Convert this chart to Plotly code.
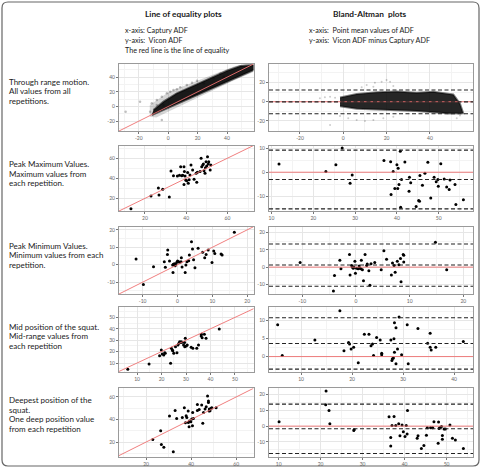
import plotly.graph_objects as go

W, H = 482, 468

# ---------------- data ----------------
# Row 1: through range motion (dense cloud, approximated by outline polygons + loose points)
loe1_core_x = [-11.1, -0.9, 12.7, 26.4, 40.0, 53.7, 58.2, 58.2, 49.1, 40.0, 28.7, 17.3, 5.9, -3.2, -10.0]
loe1_core_y = [-11.6, -2.5, 8.9, 21.6, 33.9, 45.2, 49.8, 56.6, 55.3, 48.9, 38.4, 28.0, 18.0, 6.6, -4.8]
loe1_halo_x = [-12.5, -7.7, -4.3, -0.9, 3.6, 8.2, 12.7, 16.2, 19.6, 30, 45, 58, 58, 45, 30, 15, 0, -8, -12.5]
loe1_halo_y = [2.0, 8.9, 13.4, 18.0, 22.5, 26.2, 29.3, 32.5, 35.2, 44, 55, 60, 47, 36, 22, 7, -7, -15, -14]
loe1_pts_x = [-11.1, -7.7, -4.3, -0.9, 3.6, 8.2, 12.7, 16.2, 19.6, 1.4, 5.9, -19.1, -28.9, -4.3, -7.7, -3.2, -12.3, 24.1, 30.9, 35.5, 37.7]
loe1_pts_y = [4.3, 8.9, 13.4, 18.0, 22.5, 26.2, 29.3, 32.5, 35.2, 20.2, 23.4, 6.6, -7.0, -18.4, 2.0, 2.0, -7.0, 31.6, 38.4, 45.2, 40.7]

ba1_core_x = [-1.5, 6.2, 15.4, 24.7, 33.9, 41.6, 50.8, 53.9, 55.4, 49.3, 41.6, 33.9, 24.7, 15.4, 6.2, -1.5]
ba1_core_y = [4.5, 8.0, 9.8, 10.6, 9.4, 10.4, 7.5, -2.0, -12.0, -12.3, -11.0, -9.6, -8.8, -8.2, -7.4, -4.6]
ba1_pts_x = [-10.8, -8.5, -6.1, -3.8, 10.8, 14.6, 17.7, 20.0, 21.6, 23.1, 13.9, 8.5,
             -1.5, 2.3, 6.2, 10.0, 13.9, 18.5, 23.1, -6.1, 52.4, 53.9]
ba1_pts_y = [3.5, 4.6, 5.2, 4.2, 17.4, 19.8, 20.9, 22.6, 20.9, 16.4, 15.6, 15.0,
             -14.9, -17.3, -19.1, -20.1, -19.1, -17.3, -15.6, -24.3, -17.3, -14.3]

# Row 2: peak maximum values
loe2_x = [13.2, 22.9, 26.5, 26.8, 28.6, 31.8, 32.6, 33.8, 35.7, 36.7, 37.3, 37.8, 38.3, 38.9, 39.4, 39.1, 38.9, 39.7,
          40.2, 40.7, 41.0, 41.4, 41.8, 42.3, 43.1, 43.8, 44.8, 45.1, 45.4, 46.7, 47.2, 47.5, 48.0, 48.3, 48.6, 49.1,
          49.6, 49.9, 50.3, 50.7, 50.9, 51.6, 51.9, 49.3]
loe2_y = [9.7, 22.3, 30.3, 23.3, 29.0, 21.3, 47.2, 42.6, 42.2, 42.9, 51.5, 42.6, 42.9, 51.5, 42.2, 46.6, 33.9, 38.3,
          37.6, 45.6, 34.9, 38.6, 43.2, 53.2, 48.2, 38.9, 44.9, 35.9, 45.9, 46.6, 59.8, 51.5, 53.2, 54.2, 47.5, 44.9,
          56.5, 52.2, 61.5, 54.2, 56.5, 48.2, 53.2, 50.5]
ba2_x = [11.8, 23.0, 25.4, 26.9, 28.8, 29.3, 36.9, 38.5, 38.6, 39.1, 39.5, 40.0, 40.2, 40.3, 40.5, 40.8, 40.9, 41.1,
         41.9, 42.9, 43.0, 43.3, 44.6, 45.2, 45.4, 45.5, 46.1, 46.7, 47.4, 48.1, 48.9, 49.4, 49.8, 49.9, 50.5, 51.3,
         51.9, 52.5, 52.7, 53.9, 54.1, 55.9]
ba2_y = [3.4, 0.3, 3.1, 10.1, -4.6, -1.1, 4.9, 4.3, -9.3, 0.3, -6.8, 3.1, -6.8, 1.7, -5.1, 8.7, -14.5, -3.0,
         4.2, -7.9, -2.1, -4.4, -14.2, -11.7, -12.0, -1.4, -5.4, -0.4, 4.1, -10.7, -2.1, -4.0, -3.0, -5.8, 3.5, -2.8,
         -6.1, -7.2, -3.2, -5.1, -13.4, -11.4]

# Row 3: peak minimum values
loe3_x = [-11.9, -9.8, -6.9, -3.8, -3.5, -2.9, -2.8, -2.3, -1.4, -1.3, -1.2, -0.9, -0.7, -0.5, -0.2, 0.0, 0.3, 0.6,
          1.0, 1.1, 1.3, 2.2, 2.4, 2.7, 3.2, 3.4, 4.0, 4.3, 4.6, 5.0, 5.9, 7.2, 7.8, 8.2, 8.8, 9.9, 10.4, 10.7, 12.5,
          12.8, 16.3]
loe3_y = [3.3, -11.3, -1.1, 1.7, -1.5, 5.9, 8.4, 2.1, -0.2, -4.4, 0.2, 0.6, -0.6, 0.2, 1.4, 2.1, 1.7, 1.4,
          1.7, 4.0, -1.3, -4.4, -0.2, 1.7, 2.3, 5.6, 13.2, 9.0, 2.9, -1.7, 9.4, 7.1, 4.0, 5.9, 8.4, 1.2, 7.9, 6.5, 6.1,
          5.6, 18.6]
ba3_x = [-10.4, -4.0, -4.2, -3.0, -2.8, -1.2, -1.1, -0.8, -0.7, -0.5, -0.4, -0.2, -0.1, 0.1, 0.4, 0.6, 0.7, 0.9,
         1.0, 1.2, 1.4, 1.7, 2.0, 2.1, 2.4, 2.6, 2.8, 3.5, 4.7, 5.2, 5.7, 6.6, 6.8, 7.1, 7.3, 7.7, 8.0, 8.3, 8.4, 8.8,
         8.9, 8.9, 14.8, 16.9]
ba3_y = [2.6, -4.9, -13.7, 3.9, -1.0, 7.3, -4.5, 1.0, 0.0, -0.6, 0.0, 3.4, -3.5, -0.6, -1.0, 0.6, -0.6, -1.0,
         3.9, -1.5, -7.8, 7.3, 1.0, 1.8, -2.1, -10.4, 2.0, 2.6, -1.5, 9.4, 4.5, -4.5, 2.4, 1.0, -2.9, 3.4, 1.4, 4.9,
         -8.4, 7.3, 6.9, 2.9, 14.3, -1.5]

# Row 4: mid position of the squat
loe4_x = [6.2, 14.9, 19.2, 19.9, 20.3, 20.9, 21.3, 21.5, 23.7, 24.0, 24.4, 24.6, 25.0, 25.7, 26.3, 26.7, 27.1, 27.4,
          27.8, 28.0, 28.5, 29.0, 29.4, 29.5, 29.7, 30.1, 30.5, 32.1, 32.8, 34.4, 35.1, 36.2, 36.3, 36.6, 37.5, 38.2,
          43.6]
loe4_y = [4.5, 9.1, 16.4, 21.4, 17.9, 17.0, 19.1, 18.5, 9.7, 22.9, 21.4, 20.8, 18.5, 24.3, 19.1, 25.8, 27.3, 28.7,
          27.9, 28.7, 28.1, 25.8, 27.9, 24.3, 31.7, 24.9, 25.8, 23.8, 22.9, 22.9, 25.8, 33.7, 35.2, 32.2, 35.2, 31.7,
          39.8]
ba4_x = [5.4, 6.3, 12.7, 17.6, 18.4, 19.3, 19.5, 19.8, 20.3, 21.2, 22.4, 23.3, 23.7, 24.0, 24.2, 24.8, 25.5, 25.8,
         25.8, 27.6, 27.8, 27.9, 28.1, 28.2, 28.3, 28.3, 28.6, 28.6, 28.9, 29.2, 29.7, 30.8, 31.0, 32.9, 34.8, 35.3,
         35.3, 35.5, 36.4, 41.8]
ba4_y = [8.9, 0.3, 4.6, 12.8, 1.6, 3.9, 3.5, 2.1, 2.6, -1.7, 6.2, 6.2, 3.0, 3.5, 0.3, 5.3, 4.6, 0.9,
         0.5, 4.6, -1.1, -0.6, -0.4, 5.0, 9.4, 1.2, 8.0, -2.0, 2.1, 11.0, 0.5, 8.9, -2.0, 7.8, 3.7, 6.5,
         2.6, 1.8, 2.6, 4.2]

# Row 5: deepest position of the squat
loe5_x = [23.0, 26.5, 26.8, 27.9, 30.4, 32.1, 32.9, 33.6, 36.1, 37.0, 37.5, 37.8, 38.1, 38.7, 38.8, 39.1, 39.3, 39.9,
          40.3, 40.6, 40.7, 41.0, 42.8, 42.8, 43.6, 44.7, 45.2, 45.5, 46.2, 46.7, 47.3, 47.7, 47.7, 48.0, 48.1, 48.4,
          48.9, 49.2, 51.1]
loe5_y = [22.3, 30.0, 17.9, 15.5, 43.1, 11.4, 48.1, 41.0, 41.9, 50.5, 37.1, 43.4, 41.9, 47.5, 37.4, 33.6, 38.6, 38.0,
          40.4, 34.5, 46.3, 41.0, 48.1, 53.4, 49.0, 52.8, 36.6, 46.3, 49.3, 51.4, 60.8, 55.2, 56.4, 47.5, 49.3, 47.8,
          49.9, 50.5, 50.5]
ba5_x = [10.1, 21.3, 21.2, 22.0, 22.2, 27.9, 28.0, 36.3, 36.7, 36.7, 37.0, 37.5, 37.9, 38.6, 38.9, 39.4, 39.7, 40.1,
         40.4, 40.6, 40.7, 43.0, 43.2, 44.0, 44.6, 45.2, 45.4, 46.2, 46.7, 47.0, 48.0, 48.1, 48.2, 48.4, 48.8, 49.0,
         49.0, 49.4, 49.7, 50.8, 51.4, 52.1, 54.0]
ba5_y = [2.8, 22.2, 13.5, 9.8, 1.5, -2.8, -2.2, 5.9, -7.2, -12.6, 0.4, 6.1, 0.4, 1.5, -6.1, 0.7, -3.5, -6.5,
         0.4, -5.0, 9.8, -7.6, -6.1, -14.2, -12.2, -5.7, -1.1, -1.1, -1.1, 2.8, -10.9, 2.6, -1.5, -1.1, -0.2, -5.9,
         -8.3, -1.8, -1.8, 0.7, -7.6, -8.7, -14.2]

# Bland-Altman limits of agreement (lower, bias, upper) per row
ba_limits = [
    [-12.5, -0.2, 12.2],
    [-15.2, -3.0, 9.2],
    [-11.0, 1.2, 13.3],
    [-3.5, 3.65, 10.8],
    [-17.3, -1.7, 13.9],
]

# tick labels per panel
loe_xticks = [[-20, 0, 20, 40], [20, 40, 60], [-10, 0, 10, 20], [10, 20, 30, 40, 50], [20, 40, 60]]
loe_yticks = [[-20, 0, 20, 40], [20, 40, 60], [-10, 0, 10, 20], [10, 20, 30, 40, 50], [20, 40, 60]]
ba_xticks = [[-20, 0, 20, 40], [10, 20, 30, 40, 50], [-10, 0, 10, 20], [10, 20, 30, 40], [10, 20, 30, 40, 50]]
ba_yticks = [[-20, 0, 20], [-10, 0, 10], [-10, 0, 10, 20], [0, 5, 10], [-10, 0, 10, 20]]

row_labels = [
    ["Through range motion.", "All values from all", "repetitions."],
    ["Peak Maximum Values.", "Maximum values from", "each repetition."],
    ["Peak Minimum Values.", "Minimum values from each", "repetition."],
    ["Mid position of the squat.", "Mid-range values from", "each repetition"],
    ["Deepest position of the", "squat.", "One deep position value", "from each repetition"],
]
col_titles = ["Line of equality plots", "Bland-Altman\u00a0 plots"]
left_notes = ["x-axis: Captury ADF", "y-axis:\u00a0 Vicon ADF", "The red line is the line of equality"]
right_notes = ["x-axis:\u00a0 Point mean values of ADF", "y-axis:\u00a0 Vicon ADF minus Captury ADF"]

# ---------------- layout geometry (pixels) ----------------
COLX = [(119, 253.5), (269, 473)]
ROWY = [(64, 131), (145.5, 211), (226.7, 294), (306.7, 372), (388.3, 456.5)]
LOE_XR = [[-33.4, 58], [7.4, 72.6], [-16.8, 21.8], [2.6, 57.6], [8, 67.7]]
LOE_YR = [[-33.4, 58], [7.4, 72.6], [-16.8, 21.8], [2.1, 59.4], [7.2, 67.7]]
BA_XR = [[-34.3, 59.9], [9.4, 58.2], [-16.2, 21.8], [3.7, 43.7], [7.7, 56.3]]
BA_YR = [[-30.5, 39.3], [-16.1, 11.1], [-15.5, 23.3], [-4.3, 13.9], [-19.2, 23.9]]

FONT = "Lato"
RED = "#ee7070"

fig = go.Figure()
layout = dict(width=W, height=H, margin=dict(l=0, r=0, t=0, b=0), showlegend=False,
              paper_bgcolor="white", plot_bgcolor="white")
shapes = []
annotations = []


def px2x(p):
    return p / W


def py2y(p):
    return 1 - p / H


def make_axis(ticks, rng, dom, anchor):
    step = ticks[1] - ticks[0]
    minor = [t - step / 2 for t in ticks] + [ticks[-1] + step / 2]
    return dict(domain=dom, anchor=anchor, range=rng, tickmode="array", tickvals=ticks,
                ticktext=[str(t) for t in ticks], showgrid=True, gridcolor="#e6e6e6", gridwidth=0.7,
                minor=dict(tickmode="array", tickvals=minor, showgrid=True, gridcolor="#f3f3f3",
                           gridwidth=0.5, ticks=""),
                showline=True, linecolor="#9a9a9a", linewidth=1, mirror=True, ticks="outside",
                ticklen=2, tickwidth=0.7, tickcolor="#777",
                tickfont=dict(size=5, color="#666", family=FONT), zeroline=False, fixedrange=True)


loe_data = [(loe1_pts_x, loe1_pts_y), (loe2_x, loe2_y), (loe3_x, loe3_y), (loe4_x, loe4_y), (loe5_x, loe5_y)]
ba_data = [(ba1_pts_x, ba1_pts_y), (ba2_x, ba2_y), (ba3_x, ba3_y), (ba4_x, ba4_y), (ba5_x, ba5_y)]

for r in range(5):
    for c in range(2):
        n = 2 * r + c + 1
        sx = "" if n == 1 else str(n)
        xa, ya = "x" + sx, "y" + sx
        dx = [px2x(COLX[c][0]), px2x(COLX[c][1])]
        dy = [py2y(ROWY[r][1]), py2y(ROWY[r][0])]
        if c == 0:
            xr, yr, xt, yt = LOE_XR[r], LOE_YR[r], loe_xticks[r], loe_yticks[r]
        else:
            xr, yr, xt, yt = BA_XR[r], BA_YR[r], ba_xticks[r], ba_yticks[r]
        layout["xaxis" + sx] = make_axis(xt, xr, dx, ya)
        layout["yaxis" + sx] = make_axis(yt, yr, dy, xa)

        if c == 0:
            if r == 0:
                fig.add_trace(go.Scatter(x=loe1_halo_x, y=loe1_halo_y, fill="toself", mode="lines",
                                         line=dict(width=0), fillcolor="rgba(0,0,0,0.16)",
                                         xaxis=xa, yaxis=ya, hoverinfo="skip"))
                fig.add_trace(go.Scatter(x=loe1_core_x, y=loe1_core_y, fill="toself", mode="lines",
                                         line=dict(width=2, color="rgba(0,0,0,0.55)"),
                                         fillcolor="rgba(0,0,0,0.88)", xaxis=xa, yaxis=ya, hoverinfo="skip"))
                px_, py_ = loe_data[r]
                fig.add_trace(go.Scatter(x=px_, y=py_, mode="markers",
                                         marker=dict(size=2.5, color="rgba(0,0,0,0.25)"),
                                         xaxis=xa, yaxis=ya, hoverinfo="skip"))
            else:
                px_, py_ = loe_data[r]
                fig.add_trace(go.Scatter(x=px_, y=py_, mode="markers",
                                         marker=dict(size=3, color="black"),
                                         xaxis=xa, yaxis=ya, hoverinfo="skip"))
            lo, hi = min(xr[0], yr[0]), max(xr[1], yr[1])
            fig.add_trace(go.Scatter(x=[lo, hi], y=[lo, hi], mode="lines",
                                     line=dict(color=RED, width=0.9), xaxis=xa, yaxis=ya, hoverinfo="skip"))
        else:
            if r == 0:
                fig.add_trace(go.Scatter(x=ba1_core_x, y=ba1_core_y, fill="toself", mode="lines",
                                         line=dict(width=2, color="rgba(0,0,0,0.5)"),
                                         fillcolor="rgba(0,0,0,0.85)", xaxis=xa, yaxis=ya, hoverinfo="skip"))
                px_, py_ = ba_data[r]
                fig.add_trace(go.Scatter(x=px_, y=py_, mode="markers",
                                         marker=dict(size=2, color="rgba(0,0,0,0.2)"),
                                         xaxis=xa, yaxis=ya, hoverinfo="skip"))
            else:
                px_, py_ = ba_data[r]
                fig.add_trace(go.Scatter(x=px_, y=py_, mode="markers",
                                         marker=dict(size=3, color="black"),
                                         xaxis=xa, yaxis=ya, hoverinfo="skip"))
            xdom = xa + " domain"
            shapes.append(dict(type="line", xref=xdom, yref=ya, x0=0, x1=1, y0=0, y1=0,
                               line=dict(color=RED, width=0.9)))
            for v in ba_limits[r]:
                shapes.append(dict(type="line", xref=xdom, yref=ya, x0=0, x1=1, y0=v, y1=v,
                                   line=dict(color="#222", width=1.1, dash="4px,2.5px")))

# outer rounded frame
x0, x1 = px2x(2), px2x(479)
yb, yt_ = py2y(466), py2y(2)
rx, ry = 6 / W, 6 / H
path = (f"M {x0+rx},{yt_} L {x1-rx},{yt_} Q {x1},{yt_} {x1},{yt_-ry} L {x1},{yb+ry} "
        f"Q {x1},{yb} {x1-rx},{yb} L {x0+rx},{yb} Q {x0},{yb} {x0},{yb+ry} L {x0},{yt_-ry} "
        f"Q {x0},{yt_} {x0+rx},{yt_} Z")
shapes.append(dict(type="path", xref="paper", yref="paper", path=path,
                   line=dict(color="#666", width=1.2), layer="above"))


def txt(s, xp, yp, size, bold=False, anchor="left"):
    annotations.append(dict(text=("<b>%s</b>" % s) if bold else s, x=px2x(xp), y=py2y(yp),
                            xref="paper", yref="paper", xanchor=anchor, yanchor="middle",
                            showarrow=False, font=dict(size=size, color="#1a1a1a", family=FONT)))


txt(col_titles[0], 183, 14.3, 8.3, bold=True, anchor="center")
txt(col_titles[1], 369, 14.3, 8.3, bold=True, anchor="center")
for i, s in enumerate(left_notes):
    txt(s, 123.3, 30.7 + i * 9.8, 7.2)
for i, s in enumerate(right_notes):
    txt(s, 306.7, 30.7 + i * 9.8, 7.2)

row_label_y = [81.7, 164, 245.7, 326.7, 400]
for r, lines in enumerate(row_labels):
    for i, s in enumerate(lines):
        txt(s, 7.3, row_label_y[r] + i * 9.5, 8)

layout["shapes"] = shapes
layout["annotations"] = annotations
fig.update_layout(**layout)
fig.write_html("out.html")
